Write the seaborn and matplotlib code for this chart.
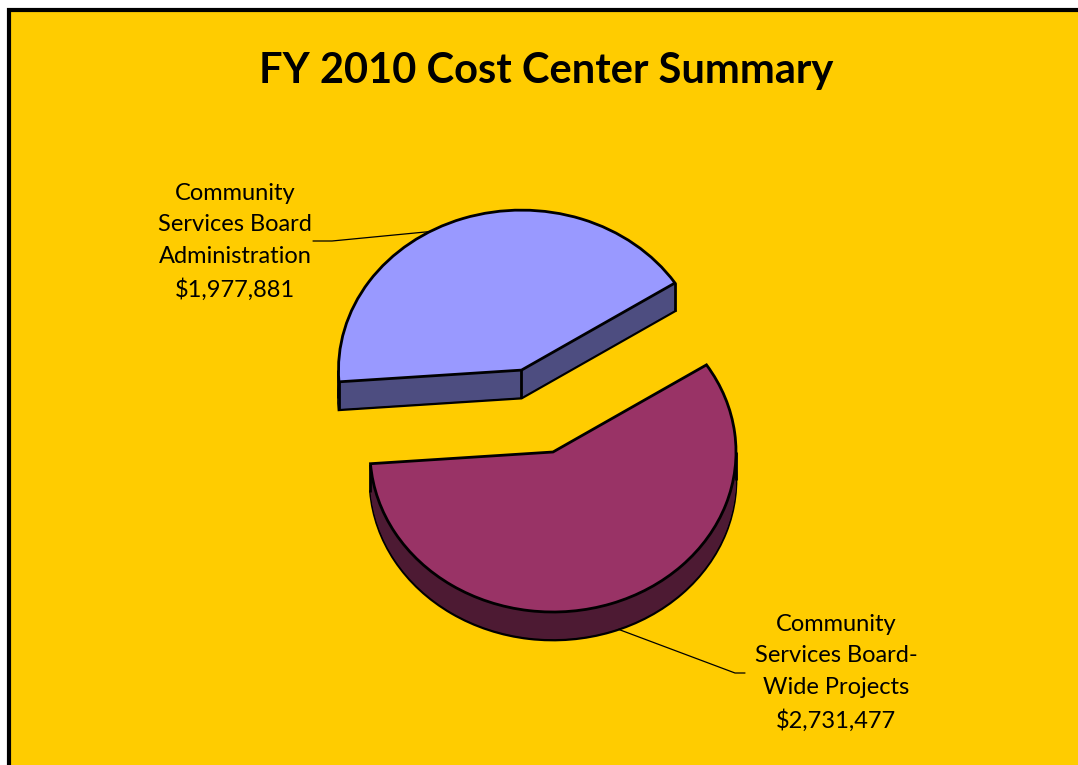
# FY 2010 Cost Center Summary - exploded 3D-style pie

import numpy as np
import matplotlib.pyplot as plt
import seaborn as sns
from matplotlib.patches import Wedge, Rectangle

sns.set_style("white")
plt.rcParams['font.family'] = ['Lato', 'DejaVu Sans']
plt.rcParams['text.color'] = 'black'

title = "FY 2010 Cost Center Summary"
labels = ["Community\nServices Board\nAdministration",
          "Community\nServices Board-\nWide Projects"]
amounts = [1977881, 2731477]
top_colors = ["#9999FF", "#993366"]
side_colors = ["#4D4D80", "#4D1A33"]

W, H = 1078, 765
R = 183            # pie radius (px, horizontal)
K = 183 / 160      # vertical squash of the tilted pie
depth = 28 * K     # slab thickness in data units


def ydat(p):
    # pixel row from top -> data y
    return (H - p) * K


fig = plt.figure(figsize=(W / 100, H / 100), dpi=100)
fig.patch.set_facecolor("white")
ax = fig.add_axes([0, 0, 1, 1])

wedges, _ = ax.pie(amounts, radius=R, center=(553, ydat(452)), startangle=33,
                   explode=[0.54 * R, 0], colors=top_colors,
                   wedgeprops=dict(edgecolor="black", linewidth=2))
ax.set_aspect("auto")
ax.set_xlim(0, W)
ax.set_ylim(0, H * K)
ax.axis("off")

ax.add_patch(Rectangle((9, -40), W + 40, ydat(10) + 40, facecolor="#FFCC00",
                       edgecolor="black", linewidth=3, zorder=0))

# extrude each slice downward to fake the 3D slab
n = int(round(depth))
for i, (w, sc) in enumerate(zip(wedges, side_colors)):
    base = 1 + 3 * i
    cx, cy = w.center
    for k in range(n, 0, -1):
        ax.add_patch(Wedge((cx, cy - k), w.r, w.theta1, w.theta2, facecolor=sc,
                           edgecolor="black", linewidth=2 if k == n else 0,
                           zorder=base if k == n else base + 0.1))
    angs = [w.theta1, w.theta2] + [a for a in (180, 360) if w.theta1 < a < w.theta2]
    pts = [(cx, cy)] + [(cx + w.r * np.cos(np.radians(a)), cy + w.r * np.sin(np.radians(a)))
                        for a in angs]
    for px, py in pts:
        ax.plot([px, px], [py, py - depth], color="black", lw=2, zorder=base + 0.2,
                solid_capstyle="butt")
    w.set_zorder(base + 0.3)

# leader lines
w0, w1 = wedges
a0 = np.radians(120)
p0 = (w0.center[0] + R * np.cos(a0), w0.center[1] + R * np.sin(a0))
ax.plot([313, 332, p0[0]], [ydat(241), ydat(241), p0[1]], color="black", lw=0.9, zorder=10)
a1 = np.radians(-69)
p1 = (w1.center[0] + R * np.cos(a1), w1.center[1] - depth + R * np.sin(a1))
ax.plot([p1[0], 735, 745], [p1[1], ydat(673), ydat(673)], color="black", lw=0.9, zorder=10)

# labels
label_pos = [(235, 242), (836, 673)]
for lab, amt, (lx, ly) in zip(labels, amounts, label_pos):
    ax.text(lx, ydat(ly), f"{lab}\n${amt:,.0f}", ha="center", va="center",
            multialignment="center", fontsize=17, linespacing=1.62, color="black",
            zorder=11)

fig.text(546 / W, 1 - 71 / H, title, ha="center", va="center",
         fontsize=30, fontweight="bold", color="black")

fig.savefig("out.png", dpi=100, facecolor=fig.get_facecolor())
